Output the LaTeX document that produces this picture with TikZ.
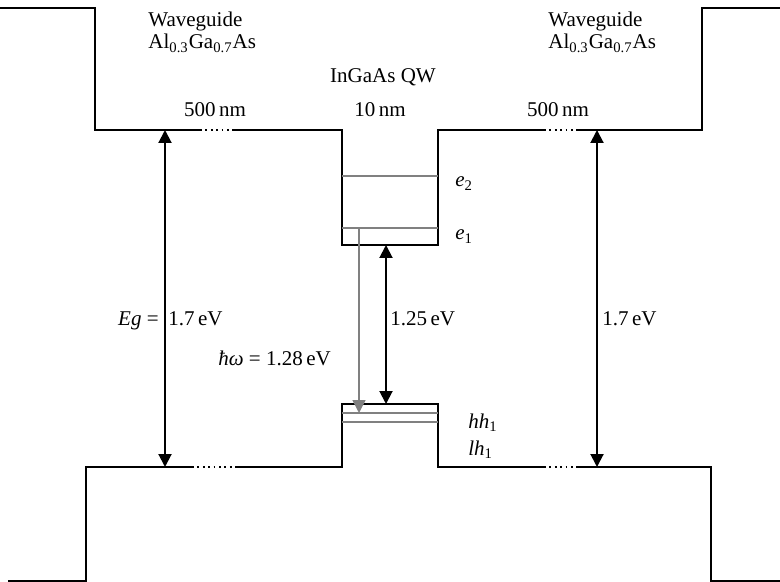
\documentclass[tikz,border=0pt]{standalone}
\usepackage{fontspec}
\setmainfont{Liberation Serif}
\usetikzlibrary{arrows.meta}
\usetikzlibrary{positioning}

\begin{document}
\begin{tikzpicture}[
  x=0.5pt, y=-0.5pt,
  every node/.style={font=\fontsize{10.5}{12}\selectfont, inner sep=0pt},
  band/.style={line width=1pt},
  gapline/.style={line width=0.9pt, dash pattern=on 0.9pt off 1.8pt},
  sublevel/.style={line width=0.8pt, draw=gray},
  gaparrow/.style={line width=1pt, {Triangle[length=6.5pt,width=6.5pt]}-{Triangle[length=6.5pt,width=6.5pt]}},
  emitarrow/.style={line width=0.8pt, draw=gray, -{Triangle[length=6.5pt,width=6.5pt]}}
]
\useasboundingbox (0,0) rectangle (780,582);

% conduction band
\coordinate (cbL) at (165,130);
\coordinate (cbR) at (597,130);
\coordinate (cbQW) at (386,245);
\draw[band] (0,8) -- (95,8) -- (95,130) -- (200,130);
\draw[gapline] (200,130) -- (234,130);
\draw[band] (234,130) -- (342,130) -- (342,245) -- (438,245) -- (438,130) -- (544,130);
\draw[gapline] (544,130) -- (577,130);
\draw[band] (577,130) -- (702,130) -- (702,8) -- (780,8);

% valence band
\coordinate (vbL) at (165,467);
\coordinate (vbR) at (597,467);
\coordinate (vbQW) at (386,404);
\draw[band] (8,581) -- (86,581) -- (86,467) -- (192,467);
\draw[gapline] (192,467) -- (235,467);
\draw[band] (235,467) -- (342,467) -- (342,404) -- (438,404) -- (438,467) -- (544,467);
\draw[gapline] (544,467) -- (577,467);
\draw[band] (577,467) -- (711,467) -- (711,581) -- (780,581);

% confined levels
\draw[sublevel] (342,176) -- (438,176);
\draw[sublevel] (342,228) -- (438,228);
\draw[sublevel] (342,413) -- (438,413);
\draw[sublevel] (342,422) -- (438,422);
\coordinate (eone) at (359,228);
\coordinate (hhone) at (359,413);

% transitions
\draw[gaparrow] (cbL) -- (vbL);
\draw[gaparrow] (cbR) -- (vbR);
\draw[gaparrow] (cbQW) -- (vbQW);
\draw[emitarrow] (eone) -- (hhone);

% labels
\node[anchor=base west] (wgL) at (148,27) {Waveguide};
\node[anchor=base west] (alL) at (148,49) {Al\textsubscript{0.3}Ga\textsubscript{0.7}As};
\node[anchor=base west] (wgR) at (548,27) {Waveguide};
\node[anchor=base west] (alR) at (548,49) {Al\textsubscript{0.3}Ga\textsubscript{0.7}As};
\node[anchor=base] (qw) at (383,83) {InGaAs QW};
\node[anchor=base] (wL) at (215,117) {500\,nm};
\node[anchor=base] (wQW) at (380,117) {10\,nm};
\node[anchor=base] (wR) at (558,117) {500\,nm};

\node[anchor=base west] (etwo) at (455,187) {\textit{e}\textsubscript{2}};
\node[anchor=base west] (elone) at (455,240) {\textit{e}\textsubscript{1}};
\node[anchor=base west] (hh) at (468,428) {\textit{hh}\textsubscript{1}};
\node[anchor=base west] (lh) at (468,455) {\textit{lh}\textsubscript{1}};

\node[anchor=base east] (eg) at (159,325) {\textit{Eg} =};
\node[anchor=base west] (egL) at (168,325) {1.7\,eV};
\node[anchor=base west] (egR) at (602,325) {1.7\,eV};
\node[anchor=base west] (eqw) at (390,325) {1.25\,eV};
\node[anchor=base west] (hw) at (218,365) {\textit{ħω} = 1.28\,eV};
\end{tikzpicture}
\end{document}
